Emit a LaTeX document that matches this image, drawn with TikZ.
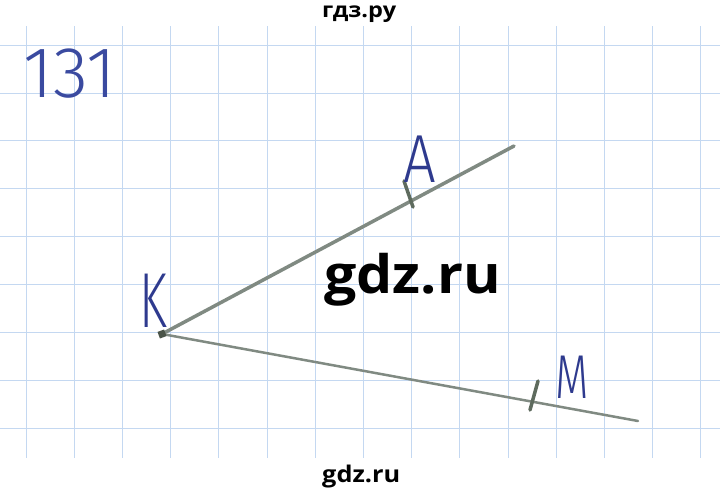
\documentclass[tikz,border=0pt]{standalone}
\usepackage{fontspec}
\newfontfamily\wm{Open Sans}
\newfontfamily\hand{Fira Sans Light}
\definecolor{gridblue}{HTML}{C4D8F1}
\definecolor{pencol}{HTML}{808A82}
\definecolor{dotcol}{HTML}{4A5448}
\definecolor{tickcol}{HTML}{5E6B5E}
\definecolor{inkblue}{HTML}{2E3A8E}
\definecolor{numblue}{HTML}{3A4AA0}
\begin{document}
\begin{tikzpicture}[x=1pt,y=-1pt,
  gridline/.style={draw=gridblue, line width=0.8pt},
  pen/.style={draw=pencol, line cap=round},
  tickmark/.style={draw=tickcol, line width=3.5pt, line cap=round},
  lab/.style={text=inkblue, inner sep=0pt, anchor=base},
  wmark/.style={text=black, inner sep=0pt, anchor=base west}]
\useasboundingbox (0,0) rectangle (720,490);
\fill[white] (0,0) rectangle (720,490);
% squared paper
\foreach \i in {0,...,8} \draw[gridline] (0,45+47.9*\i) -- (720,45+47.9*\i);
\foreach \i in {0,...,14} \draw[gridline] (26+48.2*\i,26) -- (26+48.2*\i,458);
% rays
\coordinate (K) at (162,334);
\coordinate (Aend) at (514,146);
\coordinate (Mend) at (638,421);
\draw[pen, line width=3.5pt] (K) -- (Aend);
\draw[pen, line width=2.5pt] (K) -- (Mend);
% ticks
\coordinate (At1) at (404,181); \coordinate (At2) at (413,207);
\draw[tickmark] (At1) -- (At2);
\coordinate (Mt1) at (538,381); \coordinate (Mt2) at (530,410);
\draw[tickmark] (Mt1) -- (Mt2);
\node[fill=dotcol, minimum size=7pt, inner sep=0pt, rotate=20] (Kdot) at (K) {};
% labels
\node[lab, font=\hand\fontsize{78}{78}\selectfont, xscale=0.65] (Klab) at (153,327) {K};
\node[lab, font=\hand\fontsize{68}{68}\selectfont, xscale=0.85] (Alab) at (420,182) {A};
\node[lab, font=\hand\fontsize{62}{62}\selectfont, xscale=0.7] (Mlab) at (572,398) {M};
\node[lab, text=numblue, font=\hand\fontsize{72}{72}\selectfont, xscale=1.0] (num) at (70,97) {131};
% watermarks
\node[wmark, font=\wm\bfseries\fontsize{21}{21}\selectfont, xscale=1.12] (wtop) at (322,17) {гдз.ру};
\node[wmark, font=\wm\bfseries\fontsize{53}{53}\selectfont, xscale=1.08] (wmid) at (324,293) {gdz.ru};
\node[wmark, font=\wm\bfseries\fontsize{23}{23}\selectfont, xscale=1.1] (wbot) at (322,482) {gdz.ru};
\end{tikzpicture}
\end{document}
